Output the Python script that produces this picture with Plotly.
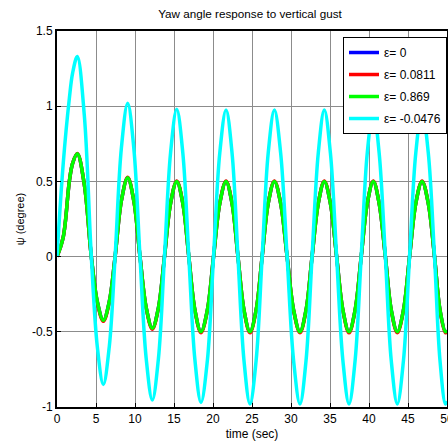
import plotly.graph_objects as go

# time samples (sec)
time_s = [0, 0.8, 1.58, 2.0, 2.6, 3.5, 4.4, 5.17, 5.94, 6.7, 7.45, 8.25, 9.06, 9.85, 10.64,
          11.43, 12.22, 13.0, 13.78, 14.56, 15.35, 16.13, 16.9, 17.68, 18.46, 19.28, 20.07,
          20.87, 21.67, 22.44, 23.2, 23.97, 24.74, 25.53, 26.3, 27.08, 27.87, 28.67, 29.5,
          30.33, 31.15, 31.93, 32.7, 33.5, 34.27, 35.05, 35.85, 36.65, 37.44, 38.22, 39.0,
          39.78, 40.55, 41.3, 42.1, 42.85, 43.63, 44.42, 45.2, 46.0, 46.8, 47.6, 48.4, 49.1, 49.8, 50.0]

psi_eps_0 = [0, 0.13, 0.5, 0.62, 0.684, 0.48, 0, -0.30, -0.424, -0.30, 0, 0.37, 0.525, 0.37, 0,
             -0.337, -0.477, -0.34, 0, 0.354, 0.5, 0.354, 0, -0.354, -0.5, -0.354, 0,
             0.354, 0.5, 0.354, 0, -0.354, -0.5, -0.354, 0, 0.354, 0.5, 0.354, 0,
             -0.354, -0.5, -0.354, 0, 0.354, 0.5, 0.354, 0, -0.354, -0.5, -0.354, 0,
             0.354, 0.5, 0.354, 0, -0.354, -0.5, -0.354, 0, 0.354, 0.5, 0.354, 0, -0.354, -0.5, -0.49]

psi_eps_0811 = [0, 0.13, 0.5, 0.62, 0.686, 0.48, 0, -0.305, -0.43, -0.305, 0, 0.37, 0.527, 0.37, 0,
                -0.34, -0.483, -0.345, 0, 0.356, 0.503, 0.356, 0, -0.358, -0.507, -0.358, 0,
                0.356, 0.503, 0.356, 0, -0.358, -0.507, -0.358, 0, 0.356, 0.503, 0.356, 0,
                -0.358, -0.507, -0.358, 0, 0.356, 0.503, 0.356, 0, -0.358, -0.507, -0.358, 0,
                0.356, 0.503, 0.356, 0, -0.358, -0.507, -0.358, 0, 0.356, 0.503, 0.356, 0, -0.358, -0.507, -0.497]

psi_eps_869 = [0, 0.13, 0.5, 0.62, 0.684, 0.48, 0, -0.30, -0.424, -0.30, 0, 0.37, 0.525, 0.37, 0,
               -0.337, -0.477, -0.34, 0, 0.354, 0.5, 0.354, 0, -0.354, -0.5, -0.354, 0,
               0.354, 0.5, 0.354, 0, -0.354, -0.5, -0.354, 0, 0.354, 0.5, 0.354, 0,
               -0.354, -0.5, -0.354, 0, 0.354, 0.5, 0.354, 0, -0.354, -0.5, -0.354, 0,
               0.354, 0.5, 0.354, 0, -0.354, -0.5, -0.354, 0, 0.354, 0.5, 0.354, 0, -0.354, -0.5, -0.49]

psi_eps_m0476 = [0, 0.62, 1.05, 1.22, 1.33, 0.94, 0, -0.6, -0.85, -0.6, 0, 0.72, 1.02, 0.72, 0,
                 -0.675, -0.954, -0.68, 0, 0.69, 0.98, 0.69, 0, -0.686, -0.97, -0.69, 0,
                 0.69, 0.975, 0.69, 0, -0.69, -0.98, -0.69, 0, 0.69, 0.975, 0.69, 0,
                 -0.69, -0.98, -0.69, 0, 0.69, 0.975, 0.69, 0, -0.69, -0.98, -0.69, 0,
                 0.69, 0.975, 0.69, 0, -0.69, -0.98, -0.69, 0, 0.69, 0.975, 0.69, 0, -0.69, -0.98, -0.96]

series_names = ["ε= 0", "ε= 0.0811", "ε= 0.869", "ε= -0.0476"]
series_values = [psi_eps_0, psi_eps_0811, psi_eps_869, psi_eps_m0476]
series_colors = ["#0000FF", "#FF0000", "#00FF00", "#00FFFF"]

x_ticks = [0, 5, 10, 15, 20, 25, 30, 35, 40, 45, 50]
y_ticks = [-1, -0.5, 0, 0.5, 1, 1.5]
y_tick_text = ["-1", "-0.5", "0", "0.5", "1", "1.5"]

fig = go.Figure()
for i, (name, vals, col) in enumerate(zip(series_names, series_values, series_colors)):
    fig.add_trace(go.Scatter(
        x=time_s, y=vals, mode="lines", name=name,
        line=dict(color=col, width=3.5, shape="spline", smoothing=1.0),
        legendgroup=str(i),
    ))

font_family = "Liberation Sans, Arial, sans-serif"
fig.update_layout(
    width=448, height=448,
    margin=dict(l=57, r=1, t=31, b=41),
    paper_bgcolor="white", plot_bgcolor="white",
    font=dict(family=font_family, size=12, color="black"),
    title=dict(text="Yaw angle response to vertical gust", x=0.558, xanchor="center",
               y=0.969, yanchor="middle", font=dict(size=11.7)),
    showlegend=True,
    legend=dict(x=1.0, xanchor="right", y=0.984, yanchor="top",
                bgcolor="white", bordercolor="black", borderwidth=1,
                font=dict(size=12), tracegroupgap=3, itemwidth=30),
    xaxis=dict(range=[0, 50], tickvals=x_ticks, ticktext=[str(v) for v in x_ticks],
               showgrid=True, gridcolor="#8c8c8c", gridwidth=1,
               showline=True, linecolor="black", linewidth=2, mirror=True,
               ticks="inside", ticklen=4, tickcolor="black", zeroline=False,
               automargin=False, ticklabeloverflow="allow",
               title=dict(text="time (sec)", standoff=4, font=dict(size=12))),
    yaxis=dict(range=[-1, 1.5], tickvals=y_ticks, ticktext=y_tick_text,
               showgrid=True, gridcolor="#8c8c8c", gridwidth=1,
               showline=True, linecolor="black", linewidth=2, mirror=True,
               ticks="inside", ticklen=4, tickcolor="black", zeroline=False,
               automargin=False,
               title=dict(text="ψ (degree)", standoff=5, font=dict(size=11))),
)

fig.write_html("out.html", config={"displayModeBar": False},
               post_script="document.body.style.margin='0';document.body.style.overflow='hidden';")
